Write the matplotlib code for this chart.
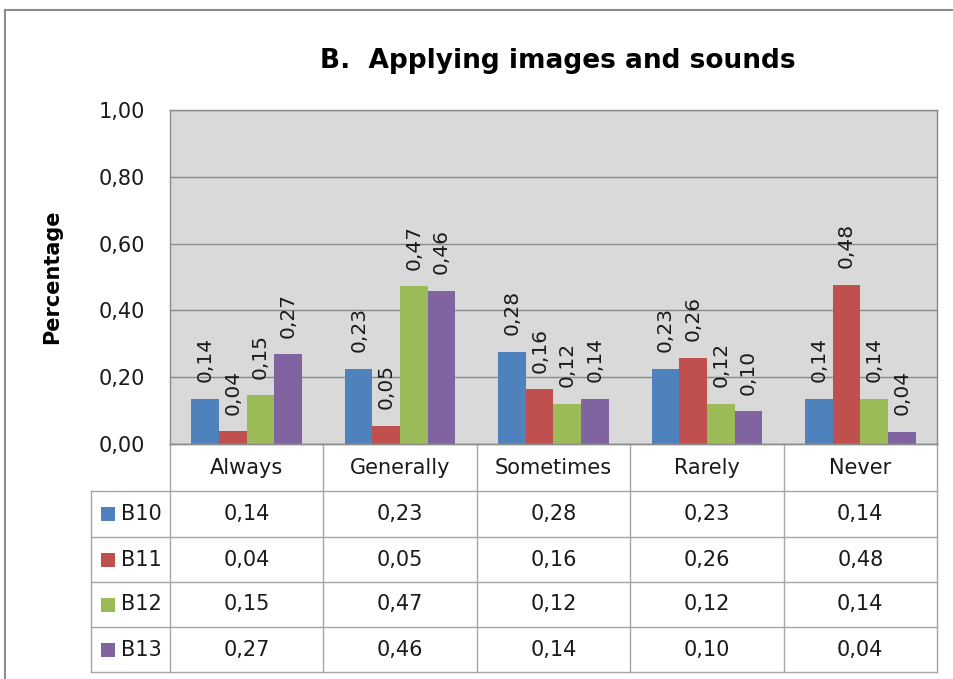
import matplotlib
matplotlib.use("Agg")
import matplotlib.pyplot as plt
from matplotlib.lines import Line2D
from matplotlib.patches import Rectangle
import matplotlib.transforms as mtransforms

categories = ["Always", "Generally", "Sometimes", "Rarely", "Never"]
series_names = ["B10", "B11", "B12", "B13"]
b10 = [0.136, 0.226, 0.276, 0.226, 0.136]
b11 = [0.038, 0.054, 0.164, 0.258, 0.477]
b12 = [0.146, 0.472, 0.121, 0.121, 0.136]
b13 = [0.268, 0.458, 0.136, 0.098, 0.036]
yticks = [0.0, 0.2, 0.4, 0.6, 0.8, 1.0]
title = "B.  Applying images and sounds"
ylabel = "Percentage"

colors = ["#4f81bd", "#c0504d", "#9bbb59", "#8064a2"]
series = [b10, b11, b12, b13]

def fmt(v):
    return f"{v:.2f}".replace(".", ",")

W, H = 954, 679
fig = plt.figure(figsize=(W / 100, H / 100), dpi=100)
fig.patch.set_facecolor("white")
plt.rcParams["font.family"] = ["DejaVu Sans"]
txt_c = "#1a1a1a"

# axes pixel geometry
L, R, T, B = 170, 937, 110, 444
ax = fig.add_axes([L / W, 1 - B / H, (R - L) / W, (B - T) / H])
ax.set_facecolor("#d9d9d9")
ax.set_xlim(-0.5, len(categories) - 0.5)
ax.set_ylim(0, 1.0)
ax.set_yticks(yticks)
ax.set_yticklabels([fmt(t) for t in yticks], fontsize=15, color=txt_c)
ax.tick_params(axis="y", length=0, pad=18)
ax.set_xticks([])
for t in yticks:
    ax.axhline(t, color="#8a8a8a", lw=1.0, zorder=1)
for sp in ax.spines.values():
    sp.set_color("#8a8a8a")
    sp.set_linewidth(1.0)

bw = 0.18
offs = [-1.5, -0.5, 0.5, 1.5]
for s, vals in enumerate(series):
    xs = [i + offs[s] * bw for i in range(len(categories))]
    ax.bar(xs, vals, width=bw, color=colors[s], edgecolor="none", zorder=2)
    for x, v in zip(xs, vals):
        ax.annotate(fmt(v), (x, v), xytext=(0, 12), textcoords="offset points",
                    rotation=90, ha="center", va="bottom", fontsize=14.5,
                    color=txt_c, zorder=3)

ax.set_ylabel(ylabel, fontsize=15, fontweight="bold")
ax.yaxis.set_label_coords((62 - L) / (R - L), 0.5)

fig.text(558 / W, 1 - 61 / H, title, ha="center", va="center",
         fontsize=19, fontweight="bold", color="black")

# data table below the axes
trans = mtransforms.blended_transform_factory(ax.transData, ax.transAxes)
ph = B - T
row_px = [444, 491, 537, 582, 627, 672]
row_y = [-(r - B) / ph for r in row_px]
left_x_ax = (91 - L) / (R - L)
lc = "#a6a6a6"
n = len(categories)

# horizontal lines
ax.add_line(Line2D([-0.5, n - 0.5], [row_y[0], row_y[0]], transform=trans,
                   color=lc, lw=1.0, clip_on=False))
tA = ax.transAxes
for y in row_y[1:]:
    ax.add_line(Line2D([left_x_ax, 1.0], [y, y], transform=tA,
                       color=lc, lw=1.0, clip_on=False))
# vertical lines
for i in range(n + 1):
    ax.add_line(Line2D([i - 0.5, i - 0.5], [row_y[0], row_y[-1]], transform=trans,
                       color=lc, lw=1.0, clip_on=False))
ax.add_line(Line2D([left_x_ax, left_x_ax], [row_y[1], row_y[-1]], transform=tA,
                   color=lc, lw=1.0, clip_on=False))

# header
hy = (row_y[0] + row_y[1]) / 2
for i, c in enumerate(categories):
    ax.text(i, hy, c, transform=trans, ha="center", va="center", fontsize=15,
            color=txt_c)
# rows
for s, vals in enumerate(series):
    ry = (row_y[s + 1] + row_y[s + 2]) / 2
    for i, v in enumerate(vals):
        ax.text(i, ry, fmt(v), transform=trans, ha="center", va="center",
                fontsize=15, color=txt_c)
    kx = (101 - L) / (R - L)
    kw = 14 / (R - L)
    kh = 14 / ph
    ax.add_patch(Rectangle((kx, ry - kh / 2), kw, kh, transform=tA,
                           facecolor=colors[s], edgecolor="none", clip_on=False))
    ax.text((121 - L) / (R - L), ry, series_names[s], transform=tA,
            ha="left", va="center", fontsize=15, color=txt_c)

# outer chart frame (left and top edges visible)
fig.add_artist(Line2D([5 / W, 5 / W], [0, 1 - 10 / H], transform=fig.transFigure,
                      color="#8c8c8c", lw=1.5))
fig.add_artist(Line2D([5 / W, 1], [1 - 10 / H, 1 - 10 / H], transform=fig.transFigure,
                      color="#8c8c8c", lw=1.5))

fig.savefig("out.png", dpi=100)
